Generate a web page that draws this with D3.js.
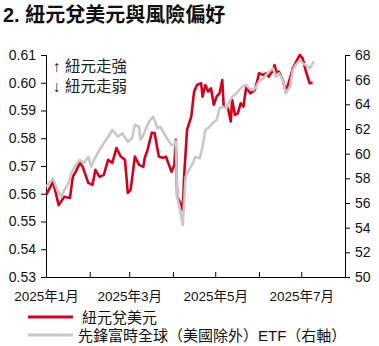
<!DOCTYPE html>
<html><head><meta charset="utf-8">
<script src="https://cdn.jsdelivr.net/npm/d3@7"></script>
<style>
html,body{margin:0;padding:0;background:#fff;}
svg{display:block;font-family:"Liberation Sans","Noto Sans CJK TC",sans-serif;}
</style></head><body>
<svg id="c" width="379" height="346"></svg>
<script>
const title = "2. 紐元兌美元與風險偏好";
const seriesNames = ["紐元兌美元", "先鋒富時全球（美國除外）ETF（右軸）"];
const notes = ["↑ 紐元走強", "↓ 紐元走弱"];
const leftTicks = [0.53,0.54,0.55,0.56,0.57,0.58,0.59,0.60,0.61];
const rightTicks = [50,52,54,56,58,60,62,64,66,68];
const monthTicks = ["2025-01-01","2025-02-01","2025-03-01","2025-04-01","2025-05-01","2025-06-01","2025-07-01","2025-08-01"];
const monthLabels = ["2025年1月","","2025年3月","","2025年5月","","2025年7月",""];

const nzdDates = ["2025-01-01","2025-01-06","2025-01-10","2025-01-14","2025-01-18","2025-01-20","2025-01-22","2025-01-25","2025-01-27","2025-01-31",
"2025-02-03","2025-02-05","2025-02-08","2025-02-11","2025-02-14","2025-02-17","2025-02-20","2025-02-23","2025-02-26","2025-02-28",
"2025-03-02","2025-03-05","2025-03-08","2025-03-11","2025-03-12","2025-03-14","2025-03-17","2025-03-19","2025-03-22","2025-03-25","2025-03-27","2025-03-31",
"2025-04-02","2025-04-03","2025-04-04","2025-04-07","2025-04-08","2025-04-09","2025-04-11","2025-04-14","2025-04-16","2025-04-18","2025-04-21","2025-04-22","2025-04-24","2025-04-26","2025-04-28","2025-04-30",
"2025-05-02","2025-05-04","2025-05-06","2025-05-07","2025-05-10","2025-05-12","2025-05-13","2025-05-15","2025-05-17","2025-05-19","2025-05-21","2025-05-23","2025-05-25","2025-05-26","2025-05-29","2025-05-31",
"2025-06-01","2025-06-04","2025-06-06","2025-06-08","2025-06-11","2025-06-12","2025-06-14","2025-06-15","2025-06-18","2025-06-20","2025-06-23","2025-06-25","2025-06-28","2025-06-30",
"2025-07-02","2025-07-04","2025-07-07","2025-07-09"];
const nzdValues = [0.5595,0.5643,0.5559,0.5589,0.5585,0.5661,0.5679,0.5711,0.5697,0.5639,
0.5632,0.5686,0.5661,0.5668,0.5722,0.5711,0.5765,0.5734,0.5722,0.5603,
0.5614,0.5734,0.5704,0.5697,0.5729,0.5758,0.5820,0.5819,0.5734,0.5729,0.5734,0.5679,
0.5704,0.5794,0.5589,0.5559,0.5541,0.5668,0.5830,0.5878,0.5968,0.5992,0.5998,0.5950,0.5992,0.5968,0.5980,0.5920,
0.5950,0.5962,0.6010,0.5914,0.5908,0.5860,0.5938,0.5884,0.5890,0.5926,0.5914,0.5986,0.5968,0.5962,0.5974,0.6010,
0.6034,0.6028,0.6034,0.6022,0.6046,0.6064,0.6028,0.6040,0.6010,0.5968,0.6016,0.6052,0.6082,0.6100,
0.6088,0.6046,0.5998,0.6000];

const etfDates = ["2025-01-01","2025-01-06","2025-01-09","2025-01-12","2025-01-14","2025-01-17","2025-01-19","2025-01-22","2025-01-25","2025-01-28","2025-01-31",
"2025-02-02","2025-02-04","2025-02-08","2025-02-11","2025-02-15","2025-02-17","2025-02-21","2025-02-24","2025-02-28",
"2025-03-03","2025-03-05","2025-03-08","2025-03-09","2025-03-11","2025-03-15","2025-03-18","2025-03-21","2025-03-23","2025-03-27","2025-03-31",
"2025-04-02","2025-04-03","2025-04-04","2025-04-06","2025-04-08","2025-04-10","2025-04-13","2025-04-15","2025-04-17","2025-04-20","2025-04-22","2025-04-24","2025-04-27","2025-04-29",
"2025-05-02","2025-05-04","2025-05-06","2025-05-09","2025-05-11","2025-05-13","2025-05-16","2025-05-18","2025-05-20","2025-05-23","2025-05-25","2025-05-28","2025-05-30",
"2025-06-01","2025-06-04","2025-06-06","2025-06-08","2025-06-11","2025-06-13","2025-06-15","2025-06-18","2025-06-20","2025-06-23","2025-06-25","2025-06-27","2025-06-30",
"2025-07-02","2025-07-04","2025-07-07","2025-07-10"];
const etfValues = [57.32,58.00,57.05,56.51,57.05,57.62,58.43,59.08,59.49,59.24,59.75,
58.94,59.49,60.30,60.86,61.51,61.92,61.38,61.65,60.97,
61.25,62.32,62.19,61.11,61.51,62.59,63.00,62.06,62.19,61.38,60.70,
60.70,61.03,56.51,55.43,54.22,58.13,58.81,59.22,59.75,59.62,60.57,61.92,62.19,62.46,
62.73,63.68,63.81,63.68,64.21,64.62,64.89,65.16,65.43,65.57,65.30,65.16,65.43,
65.84,66.11,66.38,66.65,66.92,66.24,66.52,65.97,64.89,65.43,66.78,67.19,67.59,
67.33,67.19,66.92,67.50];

const parse = d3.timeParse("%Y-%m-%d");
const svg = d3.select("#c");
const L = 46, R = 345, T = 55, B = 277;

const x = d3.scaleTime().domain([parse("2025-01-01"), parse("2025-08-01")]).range([L, R]);
const yL = d3.scaleLinear().domain([0.53, 0.61]).range([B, T]);
const yR = d3.scaleLinear().domain([50, 68]).range([B, T]);

svg.append("text").attr("x", 3).attr("y", 22).attr("font-size", 20).attr("font-weight", "bold")
  .attr("fill", "#111").text(title);

const axL = svg.append("g").attr("transform", `translate(${L},0)`)
  .call(d3.axisLeft(yL).tickValues(leftTicks).tickFormat(d3.format(".2f")).tickSizeOuter(0).tickSize(5).tickPadding(5));
const axR = svg.append("g").attr("transform", `translate(${R},0)`)
  .call(d3.axisRight(yR).tickValues(rightTicks).tickFormat(d3.format("d")).tickSizeOuter(0).tickSize(5).tickPadding(5));
const mt = monthTicks.map(parse);
const axB = svg.append("g").attr("transform", `translate(0,${B})`)
  .call(d3.axisBottom(x).tickValues(mt).tickSizeInner(-5).tickSizeOuter(0).tickPadding(14)
    .tickFormat((d, i) => monthLabels[i]));
[axL, axR, axB].forEach(g => {
  g.selectAll("path.domain").attr("stroke", "#000");
  g.selectAll(".tick line").attr("stroke", "#000");
  g.selectAll(".tick text").attr("fill", "#111").attr("font-size", 14)
    .attr("font-family", "'Liberation Sans','Noto Sans CJK TC',sans-serif");
});
axB.selectAll(".tick text").attr("font-size", 13.5);

const nzd = nzdDates.map((d, i) => ({ d: parse(d), v: nzdValues[i] }));
const etf = etfDates.map((d, i) => ({ d: parse(d), v: etfValues[i] }));

svg.append("path").datum(nzd).attr("fill", "none").attr("stroke", "#d6001c").attr("stroke-width", 2.6)
  .attr("stroke-linejoin", "round")
  .attr("d", d3.line().x(p => x(p.d)).y(p => yL(p.v)));
svg.append("path").datum(etf).attr("fill", "none").attr("stroke", "#c8c8c8").attr("stroke-width", 2.6)
  .attr("stroke-linejoin", "round")
  .attr("d", d3.line().x(p => x(p.d)).y(p => yR(p.v)));

svg.append("text").attr("x", 53).attr("y", 72).attr("font-size", 15.5).attr("fill", "#222").text(notes[0]);
svg.append("text").attr("x", 53).attr("y", 92).attr("font-size", 15.5).attr("fill", "#222").text(notes[1]);

const leg = [{c: "#d6001c", y: 317, tx: 82}, {c: "#c8c8c8", y: 335, tx: 78}];
leg.forEach((l, i) => {
  svg.append("line").attr("x1", 28).attr("x2", 73).attr("y1", l.y).attr("y2", l.y)
    .attr("stroke", l.c).attr("stroke-width", 3);
  svg.append("text").attr("x", l.tx).attr("y", l.y + 5.5).attr("font-size", 15).attr("fill", "#111").text(seriesNames[i]);
});
</script></body></html>
